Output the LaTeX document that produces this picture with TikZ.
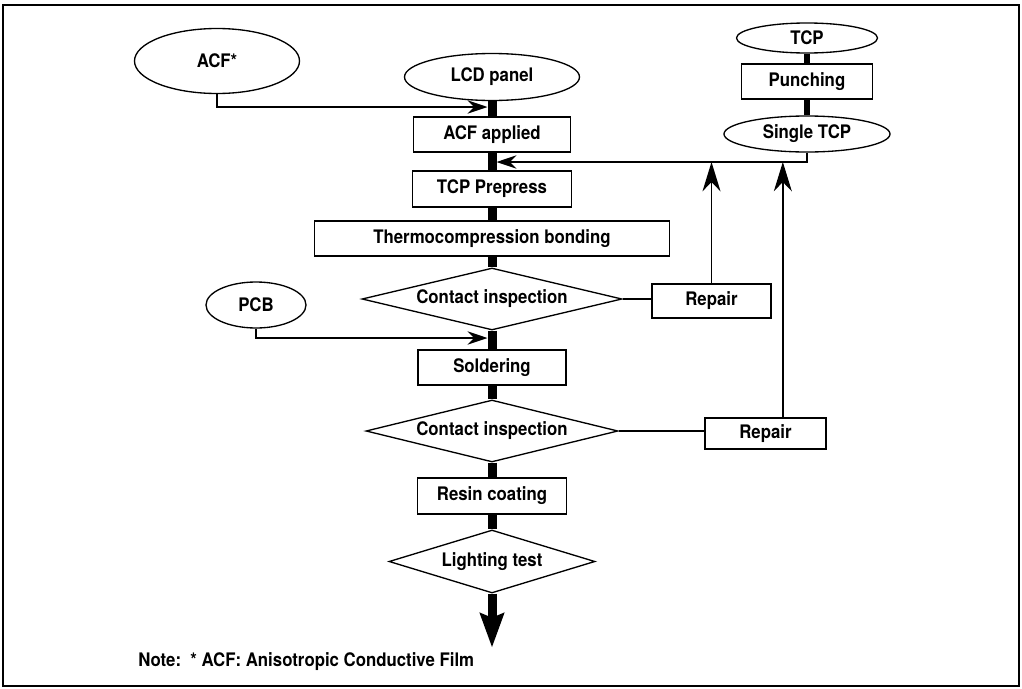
\documentclass[tikz,border=0pt]{standalone}
\usepackage{fontspec}
\setmainfont{TeX Gyre Heros}[FakeStretch=0.9]
\usetikzlibrary{shapes.geometric, arrows.meta, calc}

\begin{document}
\begin{tikzpicture}[x=0.75pt, y=-0.75pt,
        every node/.style={font=\fontsize{14}{16}\selectfont\bfseries, inner sep=0pt},
        proc/.style={draw, line width=1pt, rectangle},
        src/.style={draw, line width=1pt, ellipse},
        check/.style={draw, line width=1pt, diamond, aspect=4},
        flow/.style={line width=6.75pt},
        link/.style={line width=1pt},
        arrowin/.style={-{Stealth[length=15pt, width=10pt, inset=5pt]}},
        arrowup/.style={-{Stealth[length=22pt, width=13.5pt, inset=7pt]}}]
                \useasboundingbox (0,0) rectangle (1022,689);
                \draw[line width=1.5pt] (3,5) rectangle (1019,686);

                \node[src, minimum width=123.75pt, minimum height=48.75pt] (acf) at (217,61) {ACF*};
                \node[src, minimum width=131.25pt, minimum height=35.25pt] (lcd) at (492,77) {LCD panel};
                \node[proc, minimum width=117.75pt, minimum height=26.25pt] (applied) at (492,134.5) {ACF applied};
                \node[proc, minimum width=119.25pt, minimum height=27pt] (prepress) at (492,189) {TCP Prepress};
                \node[proc, minimum width=266.25pt, minimum height=26.25pt] (thermo) at (492,238.5) {Thermocompression bonding};
                \node[check, minimum width=195pt, minimum height=46.5pt] (insp1) at (492,299) {Contact inspection};
                \node[proc, minimum width=89.25pt, minimum height=25.5pt] (repair1) at (711.5,301) {Repair};
                \node[src, minimum width=75pt, minimum height=34.5pt] (pcb) at (256,305) {PCB};
                \node[proc, minimum width=111pt, minimum height=26.25pt] (solder) at (492,367.5) {Soldering};
                \node[check, minimum width=189pt, minimum height=46.5pt] (insp2) at (492,431) {Contact inspection};
                \node[proc, minimum width=90.75pt, minimum height=23.25pt] (repair2) at (765.5,433.5) {Repair};
                \node[proc, minimum width=111.75pt, minimum height=27pt] (resin) at (492,496) {Resin coating};
                \node[check, minimum width=154.5pt, minimum height=47.25pt] (light) at (492,561.5) {Lighting test};
                \node[src, minimum width=105.75pt, minimum height=22.5pt] (tcp) at (807,38) {TCP};
                \node[proc, minimum width=98.25pt, minimum height=26.25pt] (punch) at (807,81.5) {Punching};
                \node[src, minimum width=124.5pt, minimum height=27pt] (single) at (807,134) {Single TCP};
                \node[anchor=west] (note) at (138,662) {Note:~~* ACF: Anisotropic Conductive Film};

                \coordinate (acfin) at (487.5,107);
                \coordinate (tcpin) at (496.5,162);
                \coordinate (pcbin) at (487.5,338);
                \coordinate (out) at (492,647);

                \draw[flow] (lcd) -- (applied) -- (prepress) -- (thermo) -- (insp1) -- (solder) -- (insp2) -- (resin) -- (light);
                \draw[flow, -{Stealth[length=26pt, width=19pt, inset=4pt, line width=0pt]}] (light) -- (out);
                \draw[line width=5pt] (tcp) -- (punch) -- (single);

                \draw[link, arrowin] (acf) |- (acfin);
                \draw[link, arrowin] (single) |- (tcpin);
                \draw[link, arrowin] (pcb) |- (pcbin);
                \draw[link] (insp1.east) -- (repair1.west |- insp1.east);
                \draw[link, arrowup] (repair1) -- (repair1 |- tcpin);
                \draw[link] (insp2.east) -- (repair2.west |- insp2.east);
                \draw[link, arrowup] ([xshift=13pt]repair2.north) -- ([xshift=13pt]repair2.north |- tcpin);
            \end{tikzpicture}
\end{document}
